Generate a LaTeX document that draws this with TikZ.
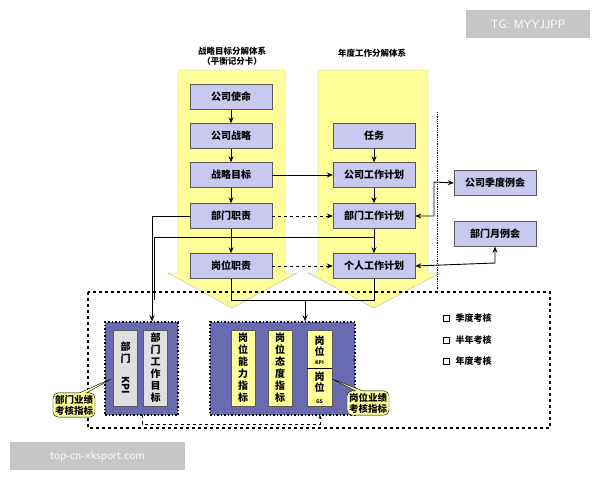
\documentclass[tikz,border=0pt]{standalone}
\usepackage{fontspec}
\setmainfont{Liberation Serif}
\newfontfamily\cjk{Noto Sans CJK SC}
\usetikzlibrary{arrows.meta,shapes.callouts}
\definecolor{bx}{HTML}{C8C8F0}
\definecolor{yl}{HTML}{FFFF99}
\definecolor{pu}{HTML}{6A6AB0}
\tikzset{
  box/.style={draw=gray!70!black,fill=bx,minimum width=82pt,minimum height=25pt,font=\cjk\fontsize{10}{11}\selectfont\bfseries,inner sep=1pt},
  ar/.style={-{Stealth[length=6pt,width=5pt]},line width=0.9pt},
  dar/.style={{Stealth[length=6pt,width=5pt]}-{Stealth[length=6pt,width=5pt]},line width=0.9pt},
  ln/.style={line width=0.9pt},
  big/.style={fill=yl,draw=gray!60},
  vt/.style={draw=gray!70!black,minimum width=24pt,minimum height=76pt,font=\cjk\fontsize{10}{12}\selectfont\bfseries,align=center,inner sep=1pt},
  call/.style={rectangle callout,rounded corners=5pt,fill=yl,draw=black,font=\cjk\fontsize{9.5}{11}\selectfont\bfseries,align=center,inner sep=2pt}
}
\begin{document}
\begin{tikzpicture}[x=1pt,y=-1pt]
\useasboundingbox (0,0) rectangle (600,480);
\draw[big] (178,70)--(285,70)--(285,273)--(297,273)--(232,308)--(168,273)--(178,273)--cycle;
\draw[big] (318,70)--(428,70)--(428,273)--(440,273)--(374,308)--(308,273)--(318,273)--cycle;
\node[font=\cjk\fontsize{8.5}{10}\selectfont\bfseries,align=center] (t1) at (232,56) {战略目标分解体系\\（平衡记分卡）};
\node[font=\cjk\fontsize{8.5}{10}\selectfont\bfseries] (t2) at (372,53) {年度工作分解体系};
\node[box] (a1) at (231,97) {公司使命};
\node[box] (a2) at (231,136) {公司战略};
\node[box] (a3) at (231,175) {战略目标};
\node[box] (a4) at (231,216) {部门职责};
\node[box] (a5) at (231,266) {岗位职责};
\node[box] (b1) at (374,136) {任务};
\node[box] (b2) at (374,175) {公司工作计划};
\node[box] (b3) at (374,216) {部门工作计划};
\node[box] (b4) at (374,266) {个人工作计划};
\node[box] (c1) at (495,183) {公司季度例会};
\node[box] (c2) at (495,234) {部门月例会};
\draw[ar] (a1)--(a2); \draw[ar] (a2)--(a3); \draw[ar] (a3)--(a4); \draw[ar] (a4)--(a5);
\draw[ar] (b1)--(b2); \draw[ar] (b2)--(b3); \draw[ar] (b3)--(b4);
\draw[ar] (a3)--(b2);
\draw[ar,dashed] (a4)--(b3);
\draw[ar,dashed] (a5)--(b4);
\draw[densely dotted,line width=0.8pt] (437,112)--(437,290);
\coordinate (j1) at (434,216); \coordinate (j2) at (434,182);
\draw[dar] (b3.east)--(j1)--(j2)--(c1.west);
\coordinate (j3) at (495,263);
\draw[dar] (b4.east)--(j3)--(c2.south);
\draw[dashed,line width=1.2pt] (88,292) rectangle (550,428);
\node[draw,dotted,line width=1.5pt,fill=pu,minimum width=73pt,minimum height=93pt] (g1) at (141.5,368.5) {};
\node[draw,dotted,line width=1.5pt,fill=pu,minimum width=145pt,minimum height=93pt] (g2) at (282.5,368.5) {};
\node[vt,fill=gray!25] (k1) at (125.5,368) {部\\门\\[2pt]\rotatebox{-90}{\bfseries KPI}};
\node[vt,fill=gray!25] (k2) at (155.5,368) {部\\门\\工\\作\\目\\标};
\node[vt,fill=yl] (k3) at (243,368) {岗\\位\\能\\力\\指\\标};
\node[vt,fill=yl] (k4) at (280,368) {岗\\位\\态\\度\\指\\标};
\node[vt,fill=yl,minimum width=25pt] (k5) at (319.5,368) {};
\draw (k5.west |- 0,368)--(k5.east |- 0,368);
\node[font=\cjk\fontsize{10}{11}\selectfont\bfseries,align=center] (k6) at (319.5,350) {岗\\位\\[-2pt]{\fontsize{5}{6}\selectfont KPI}};
\node[font=\cjk\fontsize{10}{11}\selectfont\bfseries,align=center] (k7) at (319.5,388) {岗\\位\\[1pt]{\fontsize{5}{6}\selectfont GS}};
\coordinate (p1) at (152,216); \coordinate (p2) at (154,237);
\draw[ln] (a4.west)--(p1)--(152,300);
\draw[ar] (152,300)--(g1.north -| 152,0);
\draw[ln] (b3.south)--(374,237)--(p2)--(154,300);
\coordinate (q1) at (231,300); \coordinate (q2) at (374,300);
\draw[ln] (a5.south)--(q1)--(q2)--(b4.south);
\draw[ar] (305,300)--(g2.north -| 305,0);
\draw[dashed,line width=0.8pt,-{Stealth[length=4pt,width=3pt]}] (142,415)--(142,424)--(320,424)--(320,415);
\node[call,callout absolute pointer={(113,378)}] (m1) at (74,405) {部门业绩\\考核指标};
\node[call,callout absolute pointer={(330,378)}] (m2) at (368,403) {岗位业绩\\考核指标};
\foreach \y/\t [count=\i] in {318/季度考核,340/半年考核,361/年度考核}{
  \node[font=\cjk\fontsize{9}{10}\selectfont\bfseries,anchor=west] (l\i) at (452,\y) {\t};
  \draw (443,\y-3) rectangle (449,\y+3);
}
\node[fill=gray!45,text=white,minimum width=124pt,minimum height=28pt,font=\sffamily\fontsize{12}{14}\selectfont] (w1) at (528,24) {TG: MYYJJPP};
\node[fill=gray!45,text=white,minimum width=175pt,minimum height=28pt,font=\sffamily\fontsize{12}{14}\selectfont] (w2) at (97.5,456) {top-cn-xksport.com};
\end{tikzpicture}
\end{document}
